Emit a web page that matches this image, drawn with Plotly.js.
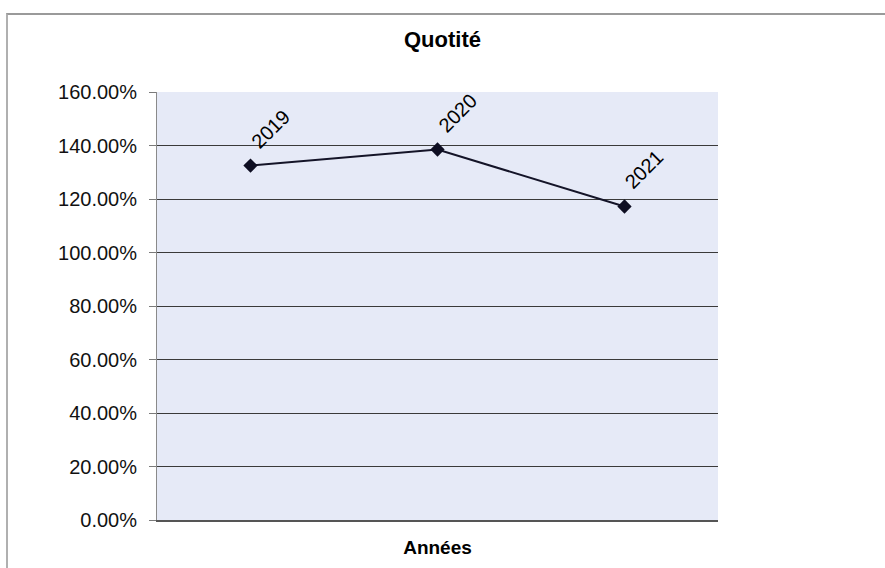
<!DOCTYPE html>
<html>
<head>
<meta charset="utf-8">
<script src="https://cdn.plot.ly/plotly-3.0.1.min.js"></script>
<style>
  html, body { margin: 0; padding: 0; background: #ffffff; }
  #wrap { position: relative; width: 885px; height: 568px; overflow: hidden; }
  #chart { position: absolute; left: 0; top: 0; width: 885px; height: 568px; }
  #frame { position: absolute; left: 6px; top: 13px; width: 900px; height: 600px;
           border-top: 2px solid #9a9a9a; border-left: 2px solid #b0b0b0; pointer-events: none; }
</style>
</head>
<body>
<div id="wrap">
  <div id="chart"></div>
  <div id="frame"></div>
</div>
<script>
// Data
const years = ['2019', '2020', '2021'];
const quotite = [1.325, 1.385, 1.172];
const chartTitle = 'Quotité';
const xTitle = 'Années';

const FONT = 'Liberation Sans, Arial, sans-serif';

const trace = {
  type: 'scatter',
  mode: 'lines+markers',
  x: years,
  y: quotite,
  line: { color: '#141428', width: 2 },
  marker: { symbol: 'diamond', size: 11, color: '#0e0e22' },
  hoverinfo: 'x+y',
  showlegend: false
};

// data labels (category names), rotated, placed above-right of each point
const annotations = years.map((yr, i) => ({
  x: i,
  y: quotite[i],
  xref: 'x',
  yref: 'y',
  text: yr,
  showarrow: false,
  textangle: -45,
  xanchor: 'center',
  yanchor: 'middle',
  xshift: 20,
  yshift: 37,
  font: { family: FONT, size: 20, color: '#000000' }
}));

const layout = {
  width: 885,
  height: 568,
  margin: { l: 157, r: 167, t: 92, b: 48 },
  paper_bgcolor: '#ffffff',
  plot_bgcolor: '#e6eaf7',
  title: {
    text: '<b>' + chartTitle + '</b>',
    font: { family: FONT, size: 22, color: '#000000' },
    x: 0.5,
    xanchor: 'center',
    y: 0.93,
    yanchor: 'middle'
  },
  xaxis: {
    type: 'category',
    range: [-0.5, 2.5],
    showticklabels: false,
    ticks: '',
    showgrid: false,
    showline: true,
    linecolor: '#555555',
    linewidth: 2,
    zeroline: false,
    fixedrange: true,
    title: {
      text: '<b>' + xTitle + '</b>',
      font: { family: FONT, size: 19, color: '#000000' },
      standoff: 20
    }
  },
  yaxis: {
    range: [0, 1.6],
    dtick: 0.2,
    tick0: 0,
    tickformat: '.2%',
    ticks: 'outside',
    ticklen: 7,
    tickcolor: '#7a7a7a',
    ticklabelstandoff: 8,
    showline: true,
    linecolor: '#8a8a8a',
    linewidth: 1,
    showgrid: true,
    gridcolor: '#3a3a3a',
    gridwidth: 1,
    zeroline: false,
    fixedrange: true,
    tickfont: { family: FONT, size: 20, color: '#111111' }
  },
  annotations: annotations
};

Plotly.newPlot('chart', [trace], layout, { displayModeBar: false, staticPlot: true });
</script>
</body>
</html>
